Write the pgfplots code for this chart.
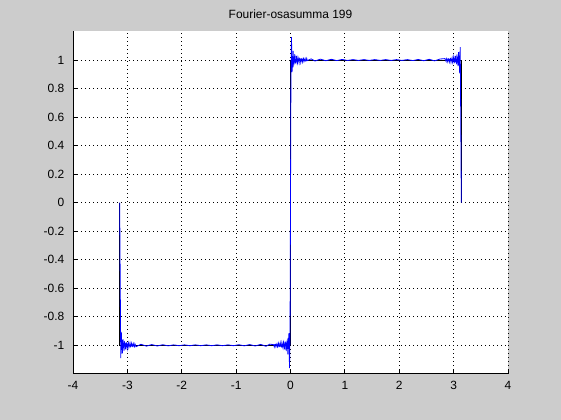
\documentclass[border=0pt]{standalone}
\usepackage{pgfplots}
\pgfplotsset{compat=1.18}
\usepackage{fontspec}
\setmainfont{Liberation Sans}
\definecolor{figgray}{RGB}{204,204,204}

\begin{document}
\begin{tikzpicture}
  % figure window background (561 x 420)
  \fill[figgray] (-73bp,-46.2bp) rectangle (488bp,373.8bp);
  \begin{axis}[
      at={(0,0)}, anchor=south west,
      scale only axis, width=435bp, height=342.3bp,
      xmin=-4, xmax=4, ymin=-1.2, ymax=1.2,
      xtick={-4,-3,-2,-1,0,1,2,3,4},
      xticklabels={-4,-3,-2,-1,0,1,2,3,4},
      ytick={-1,-0.8,-0.6,-0.4,-0.2,0,0.2,0.4,0.6,0.8,1},
      yticklabels={-1,-0.8,-0.6,-0.4,-0.2,0,0.2,0.4,0.6,0.8,1},
      axis x line*=bottom, axis y line*=left,
      axis line style={-, black, line width=0.8bp},
      axis background/.style={fill=white},
      tick align=inside, major tick length=4.5bp,
      tick style={black, line width=0.8bp},
      grid=major,
      major grid style={black, line width=0.8bp, dash pattern=on 1bp off 3bp},
      tick label style={font=\fontsize{12}{14}\selectfont},
      xticklabel style={inner sep=0pt, yshift=-7bp},
      yticklabel style={inner sep=0pt, xshift=-8.5bp},
      title={Fourier-osasumma 199},
      title style={at={(0.5,1)}, anchor=base, yshift=7.2bp, inner sep=0pt,
        font=\fontsize{12}{14}\selectfont},
    ]
    % square wave
    \addplot[black, line width=0.8bp] coordinates {
      (-3.1416,0) (-3.1416,-1) (0,-1) (0,1) (3.1416,1) (3.1416,0)
    };
    % partial sum, 199 terms
    \addplot[blue, line width=0.8bp] coordinates {
      (-3.1416,0) (-3.1316,-0.55) (-3.1216,-1.09) (-3.1116,-0.907) (-3.1016,-1.002)
      (-3.0916,-1.056) (-3.0816,-0.958) (-3.0716,-0.991) (-3.0616,-1.039) (-3.0516,-0.978)
      (-3.0416,-0.986) (-3.0316,-1.029) (-3.0216,-0.990) (-3.0116,-0.983) (-3.0016,-1.022)
      (-2.9916,-0.997) (-2.9816,-0.983) (-2.9716,-1.016) (-2.9616,-1.003) (-2.9516,-0.984)
      (-2.9416,-1.010) (-2.9316,-1.006) (-2.9216,-0.986) (-2.9116,-1.006) (-2.9016,-1.009)
      (-2.8916,-0.988) (-2.8816,-1.002) (-2.8716,-1.010) (-2.8616,-0.990) (-2.8516,-0.999)
      (-2.8416,-1.010)
      (-2.75,-0.993) (-2.65,-1.006) (-2.55,-0.995) (-2.45,-1.005) (-2.35,-0.996)
      (-2.25,-1.004) (-2.15,-0.997) (-2.05,-1.003) (-1.95,-0.997) (-1.85,-1.003)
      (-1.75,-0.997) (-1.65,-1.003) (-1.55,-0.997) (-1.45,-1.003) (-1.35,-0.997)
      (-1.25,-1.003) (-1.15,-0.997) (-1.05,-1.003) (-0.95,-0.996) (-0.85,-1.004)
      (-0.75,-0.995) (-0.65,-1.005) (-0.55,-0.994) (-0.45,-1.007) (-0.38,-0.992)
      (-0.3084,-0.996) (-0.2984,-1.011) (-0.2884,-0.995) (-0.2784,-0.993) (-0.2684,-1.011)
      (-0.2584,-0.998) (-0.2484,-0.989) (-0.2384,-1.011) (-0.2284,-1.002) (-0.2184,-0.986)
      (-0.2084,-1.010) (-0.1984,-1.006) (-0.1884,-0.983) (-0.1784,-1.008) (-0.1684,-1.012)
      (-0.1584,-0.981) (-0.1484,-1.004) (-0.1384,-1.019) (-0.1284,-0.979) (-0.1184,-0.997)
      (-0.1084,-1.028) (-0.0984,-0.978) (-0.0884,-0.986) (-0.0784,-1.041) (-0.0684,-0.979)
      (-0.0584,-0.965) (-0.0484,-1.064) (-0.0384,-0.975) (-0.0284,-0.915) (-0.0184,-1.16)
      (-0.0084,-0.91)
      (0.0084,0.91) (0.0184,1.16) (0.0284,0.915) (0.0384,0.975) (0.0484,1.064)
      (0.0584,0.965) (0.0684,0.979) (0.0784,1.041) (0.0884,0.986) (0.0984,0.978)
      (0.1084,1.028) (0.1184,0.997) (0.1284,0.979) (0.1384,1.019) (0.1484,1.004)
      (0.1584,0.981) (0.1684,1.012) (0.1784,1.008) (0.1884,0.983) (0.1984,1.006)
      (0.2084,1.010) (0.2184,0.986) (0.2284,1.002) (0.2384,1.011) (0.2484,0.989)
      (0.2584,0.998) (0.2684,1.011) (0.2784,0.993) (0.2884,0.995) (0.2984,1.011)
      (0.3084,0.996)
      (0.38,1.008) (0.45,0.993) (0.55,1.006) (0.65,0.995) (0.75,1.005)
      (0.85,0.996) (0.95,1.004) (1.05,0.997) (1.15,1.003) (1.25,0.997)
      (1.35,1.003) (1.45,0.997) (1.55,1.003) (1.65,0.997) (1.75,1.003)
      (1.85,0.997) (1.95,1.003) (2.05,0.997) (2.15,1.003) (2.25,0.996)
      (2.35,1.004) (2.45,0.995) (2.55,1.005) (2.65,0.994) (2.75,1.007)
      (2.8416,1.010) (2.8516,0.999) (2.8616,0.990) (2.8716,1.010) (2.8816,1.002)
      (2.8916,0.988) (2.9016,1.009) (2.9116,1.006) (2.9216,0.986) (2.9316,1.006)
      (2.9416,1.010) (2.9516,0.984) (2.9616,1.003) (2.9716,1.016) (2.9816,0.983)
      (2.9916,0.997) (3.0016,1.022) (3.0116,0.983) (3.0216,0.990) (3.0316,1.029)
      (3.0416,0.986) (3.0516,0.978) (3.0616,1.039) (3.0716,0.991) (3.0816,0.958)
      (3.0916,1.056) (3.1016,1.002) (3.1116,0.907) (3.1216,1.09) (3.1316,0.55)
      (3.1416,0)
    };
  \end{axis}
\end{tikzpicture}
\end{document}
